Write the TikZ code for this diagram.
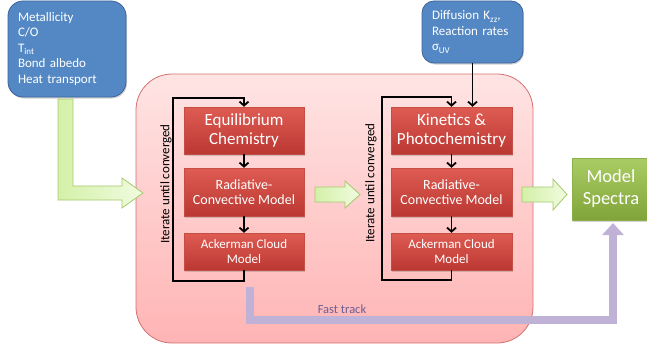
\documentclass[tikz,border=0pt]{standalone}
\usepackage{fontspec}
\setmainfont{Carlito}
\usetikzlibrary{arrows.meta,shadows}

\definecolor{bluefill}{RGB}{84,136,196}
\definecolor{blueedge}{RGB}{60,100,152}
\definecolor{redtop}{RGB}{222,92,82}
\definecolor{redbot}{RGB}{186,56,50}
\definecolor{rededge}{RGB}{196,78,68}
\definecolor{pinktop}{RGB}{255,228,228}
\definecolor{pinkbot}{RGB}{255,180,180}
\definecolor{pinkedge}{RGB}{212,112,112}
\definecolor{greentop}{RGB}{170,204,100}
\definecolor{greenbot}{RGB}{128,164,58}
\definecolor{greenedge}{RGB}{140,175,75}
\definecolor{arrowleft}{RGB}{212,240,168}
\definecolor{arrowright}{RGB}{240,252,224}
\definecolor{arrowedge}{RGB}{165,200,108}
\definecolor{lavender}{RGB}{192,178,214}
\definecolor{tracktext}{RGB}{108,94,150}

\begin{document}
\begin{tikzpicture}[x=1pt,y=-1pt,
  inbox/.style={draw=blueedge, line width=0.8pt, fill=bluefill, text=white,
    align=left, inner xsep=10pt, inner ysep=0pt,
    font=\fontsize{13}{15.5}\selectfont,
    drop shadow={shadow xshift=1pt,shadow yshift=-1.5pt,opacity=0.35}},
  stage/.style={draw=rededge, line width=0.4pt, top color=redtop, bottom color=redbot,
    text=white, align=center, inner sep=0pt, minimum width=120pt,
    drop shadow={shadow xshift=1pt,shadow yshift=-1.5pt,opacity=0.35}},
  flow/.style={line width=1.8pt, -{Straight Barb[length=4pt,width=9pt]}},
  loopline/.style={line width=1.8pt, line join=miter},
  bigarrow/.style={draw=arrowedge, line width=0.8pt, left color=arrowleft, right color=arrowright},
  looplabel/.style={rotate=90, font=\fontsize{13}{15}\selectfont},
]
\useasboundingbox (0,0) rectangle (647,345);

% main model container
\path[draw=pinkedge, line width=0.8pt, top color=pinktop, bottom color=pinkbot, rounded corners=36pt]
  (136,74) rectangle (533,343);

% input parameter boxes
\node[inbox, rounded corners=15pt, minimum width=118pt, minimum height=96pt, text width=98pt]
  (params) at (67,49) {Metallicity\\C/O\\T\raisebox{-2.5pt}{\fontsize{9}{9}\selectfont int}\\Bond albedo\\Heat transport};
\node[inbox, rounded corners=12pt, minimum width=101pt, minimum height=62pt, text width=81pt]
  (diff) at (472.5,32) {Diffusion K\raisebox{-2.5pt}{\fontsize{9}{9}\selectfont zz},\\Reaction rates\\σ\raisebox{-2.5pt}{\fontsize{9}{9}\selectfont UV}};

% block arrows
\path[bigarrow] (58,99) -- (73,99) -- (73,186) -- (122,186) -- (122,178) -- (143,193)
  -- (122,208) -- (122,200) -- (58,200) -- cycle;
\path[bigarrow] (315,187) -- (345,187) -- (345,181) -- (360,194.5) -- (345,208)
  -- (345,202) -- (315,202) -- cycle;
\path[bigarrow] (522,187) -- (553,187) -- (553,179) -- (567,194.5) -- (553,210)
  -- (553,202) -- (522,202) -- cycle;

% first iteration loop
\node[stage, minimum height=47pt, font=\fontsize{17}{19}\selectfont] (eq) at (244,130.5) {Equilibrium\\Chemistry};
\node[stage, minimum height=48pt, font=\fontsize{14}{15}\selectfont] (rc1) at (244,192) {Radiative-\\Convective Model};
\node[stage, minimum height=37pt, font=\fontsize{13}{15}\selectfont] (ack1) at (244,251.5) {Ackerman Cloud\\Model};

% second iteration loop
\node[stage, minimum width=121pt, minimum height=47pt, font=\fontsize{17}{19}\selectfont] (kin) at (451.5,130.5) {Kinetics \&\\Photochemistry};
\node[stage, minimum width=121pt, minimum height=48pt, font=\fontsize{14}{15}\selectfont] (rc2) at (451.5,192) {Radiative-\\Convective Model};
\node[stage, minimum width=121pt, minimum height=37pt, font=\fontsize{13}{15}\selectfont] (ack2) at (451.5,251.5) {Ackerman Cloud\\Model};

% output
\node[draw=greenedge, line width=0.4pt, top color=greentop, bottom color=greenbot, text=white,
  align=center, inner sep=0pt, minimum width=78pt, minimum height=62pt,
  font=\fontsize{18.5}{22}\selectfont,
  drop shadow={shadow xshift=1pt,shadow yshift=-1.5pt,opacity=0.35}]
  (ms) at (611,189) {Model\\Spectra};

% loop connectors
\draw[flow] (eq.south) -- (rc1.north);
\draw[flow] (rc1.south) -- (ack1.north);
\draw[loopline] (ack1.south) -- (ack1.south |- 0,281) -| (173,98) -- (eq.north |- 0,98);
\draw[flow] (eq.north |- 0,97.1) -- (eq.north);
\node[looplabel] (it1) at (166,184) {Iterate until converged};

\draw[flow] (kin.south) -- (rc2.north);
\draw[flow] (rc2.south) -- (ack2.north);
\draw[loopline] (ack2.south) -- (ack2.south |- 0,280) -| (382,97) -- (kin.north |- 0,97);
\draw[flow] (kin.north |- 0,96.1) -- (kin.north);
\node[looplabel] (it2) at (371,183) {Iterate until converged};

\draw[flow] (diff.south) -- (diff.south |- kin.north);

% fast track bypass
\coordinate (ftstart) at (250,287);
\coordinate (ftend) at (613,223);
\draw[lavender, line width=8pt, line join=miter,
  -{Triangle[length=12pt,width=21pt]}] (ftstart) -- (250,320) -- (613,320) -- (ftend);
\node[text=tracktext, font=\fontsize{12.5}{14}\selectfont] (ft) at (342,309) {Fast track};
\end{tikzpicture}
\end{document}
